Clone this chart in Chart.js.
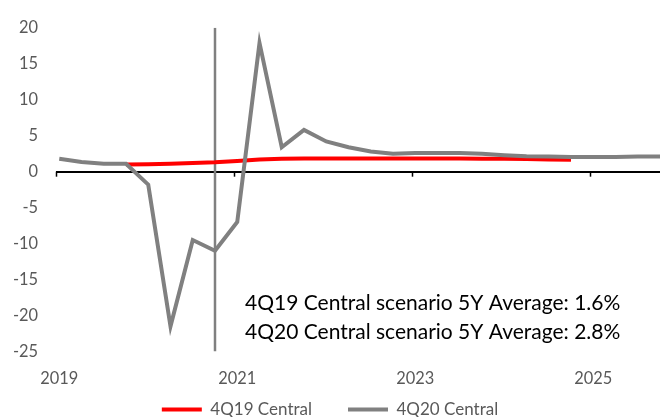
<!DOCTYPE html>
<html lang="en">
<head>
  <meta charset="UTF-8" />
  <title>4Q19 vs 4Q20 Central scenario</title>
  <script src="https://cdn.jsdelivr.net/npm/chart.js"></script>
  <style>
    body {
      margin: 0;
      background: #fff;
    }
    .wrap {
      width: 660px;
      height: 417px;
      overflow: hidden;
    }
  </style>
</head>
<body>
  <div class="wrap">
    <canvas id="chart" width="660" height="428"></canvas>
  </div>

  <script>
    // Quarterly points, 2019Q1 .. 2025Q4 (index 0..27)
    const quarters = [0,1,2,3,4,5,6,7,8,9,10,11,12,13,14,15,16,17,18,19,20,21,22,23,24,25,26,27];

    const central4Q19 = [null, null, null, 1.0, 1.05, 1.1, 1.2, 1.3, 1.5, 1.7, 1.8, 1.85, 1.85, 1.85,
                         1.85, 1.85, 1.85, 1.85, 1.85, 1.8, 1.8, 1.75, 1.7, 1.65, null, null, null, null];

    const central4Q20 = [1.8, 1.35, 1.1, 1.1, -1.8, -21.5, -9.5, -11.0, -7.0, 17.9, 3.4, 5.8, 4.2, 3.4,
                         2.8, 2.5, 2.6, 2.6, 2.6, 2.5, 2.3, 2.15, 2.1, 2.05, 2.05, 2.05, 2.1, 2.1];

    // vertical marker at 4Q20
    const markerX = 7;
    const markerY = [20, -25];

    const yearLabels = { 0: '2019', 8: '2021', 16: '2023', 24: '2025' };
    const notes = [
      '4Q19 Central scenario 5Y Average: 1.6%',
      '4Q20 Central scenario 5Y Average: 2.8%'
    ];

    const TICK_SHIFT = 0.146;   // axis ticks sit slightly left of the labelled quarter

    const axisMarks = {
      id: 'axisMarks',
      beforeDatasetsDraw(chart) {
        const { ctx } = chart;
        const x = chart.scales.x, y = chart.scales.y;
        const y0 = y.getPixelForValue(0);
        ctx.save();
        ctx.strokeStyle = '#000';
        ctx.lineWidth = 1.5;
        [0, 8, 16, 24].forEach(v => {
          const px = Math.round(x.getPixelForValue(v - TICK_SHIFT)) + 0.5;
          ctx.beginPath();
          ctx.moveTo(px, y0);
          ctx.lineTo(px, y0 + 5);
          ctx.stroke();
        });
        ctx.restore();
      },
      afterDraw(chart) {
        const { ctx } = chart;
        ctx.save();
        ctx.font = '21px Lato';
        ctx.fillStyle = '#000';
        ctx.textBaseline = 'middle';
        ctx.fillText(notes[0], 245, 303);
        ctx.fillText(notes[1], 245, 332);
        ctx.restore();
      }
    };

    const ctx = document.getElementById('chart').getContext('2d');

    new Chart(ctx, {
      type: 'line',
      data: {
        datasets: [
          {
            label: '4Q20 Central',
            data: quarters.map((q, i) => ({ x: q, y: central4Q20[i] })),
            borderColor: '#808080',
            backgroundColor: '#808080',
            borderWidth: 4,
            pointRadius: 0,
            tension: 0
          },
          {
            label: '4Q19 Central',
            data: quarters.map((q, i) => ({ x: q, y: central4Q19[i] })),
            borderColor: '#ff0000',
            backgroundColor: '#ff0000',
            borderWidth: 4,
            pointRadius: 0,
            tension: 0,
            spanGaps: false
          },
          {
            label: 'marker',
            data: markerY.map(v => ({ x: markerX, y: v })),
            borderColor: '#808080',
            borderWidth: 2.5,
            pointRadius: 0
          }
        ]
      },
      options: {
        responsive: false,
        devicePixelRatio: 1,
        animation: false,
        layout: { padding: { top: 24, right: 0, bottom: 0, left: 0 } },
        plugins: {
          tooltip: { enabled: false },
          legend: {
            position: 'bottom',
            labels: {
              font: { family: 'Lato', size: 17 },
              color: '#595959',
              boxWidth: 40,
              boxHeight: 4,
              padding: 36,
              generateLabels: chart => Chart.defaults.plugins.legend.labels.generateLabels(chart)
                .filter(l => l.datasetIndex !== 2)
                .map(l => ({ ...l, lineWidth: 0 })),
              sort: (a, b) => b.datasetIndex - a.datasetIndex
            }
          }
        },
        scales: {
          x: {
            type: 'linear',
            min: -TICK_SHIFT,
            max: 27,
            border: { display: false },
            grid: { display: false, drawTicks: false },
            afterBuildTicks: s => { s.ticks = [0, 8, 16, 24].map(v => ({ value: v })); },
            afterFit: s => { s.height = 13.5; },
            ticks: {
              // mirror keeps the labels unclipped below the short axis box
              mirror: true,
              padding: -37,
              maxRotation: 0,
              autoSkip: false,
              font: { family: 'Lato', size: 16.4 },
              color: '#595959',
              callback: v => yearLabels[v]
            }
          },
          y: {
            min: -25,
            max: 20,
            border: { display: false },
            afterFit: s => { s.width = 56; },
            grid: {
              drawTicks: false,
              lineWidth: 2,
              color: c => (c.tick && c.tick.value === 0) ? '#000' : 'rgba(0,0,0,0)'
            },
            ticks: {
              stepSize: 5,
              padding: 18,
              font: { family: 'Lato', size: 16.4 },
              color: '#595959'
            }
          }
        }
      },
      plugins: [axisMarks]
    });
  </script>
</body>
</html>
